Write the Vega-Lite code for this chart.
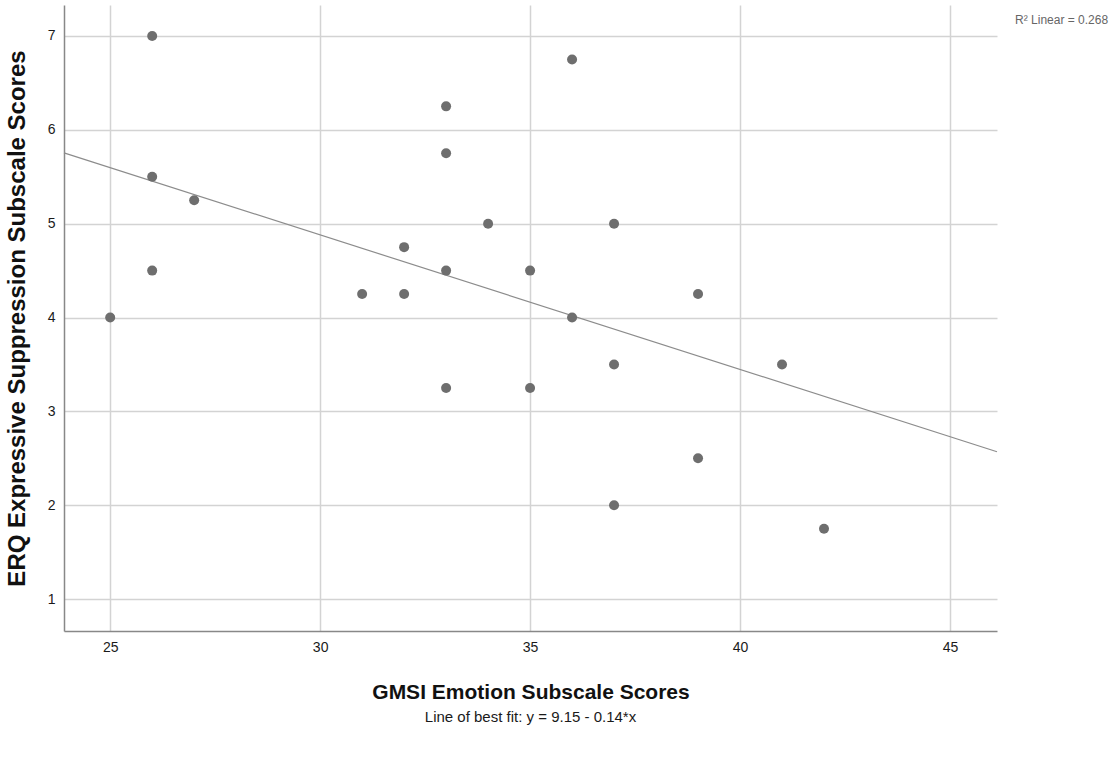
{
  "$schema": "https://vega.github.io/schema/vega-lite/v6.json",
  "width": 933,
  "height": 626,
  "autosize": {"type": "none"},
  "padding": {"left": 64, "top": 5, "right": 123, "bottom": 126},
  "background": "white",
  "title": {
    "text": "Line of best fit: y = 9.15 - 0.14*x",
    "orient": "bottom",
    "anchor": "middle",
    "font": "Liberation Sans",
    "fontSize": 15,
    "fontWeight": "normal",
    "color": "#1a1a1a",
    "offset": 8
  },
  "datasets": {
    "points": [
      {"gmsi": 26, "erq": 7},
      {"gmsi": 36, "erq": 6.75},
      {"gmsi": 33, "erq": 6.25},
      {"gmsi": 33, "erq": 5.75},
      {"gmsi": 26, "erq": 5.5},
      {"gmsi": 27, "erq": 5.25},
      {"gmsi": 34, "erq": 5},
      {"gmsi": 37, "erq": 5},
      {"gmsi": 32, "erq": 4.75},
      {"gmsi": 26, "erq": 4.5},
      {"gmsi": 33, "erq": 4.5},
      {"gmsi": 35, "erq": 4.5},
      {"gmsi": 31, "erq": 4.25},
      {"gmsi": 32, "erq": 4.25},
      {"gmsi": 39, "erq": 4.25},
      {"gmsi": 25, "erq": 4},
      {"gmsi": 36, "erq": 4},
      {"gmsi": 37, "erq": 3.5},
      {"gmsi": 41, "erq": 3.5},
      {"gmsi": 33, "erq": 3.25},
      {"gmsi": 35, "erq": 3.25},
      {"gmsi": 39, "erq": 2.5},
      {"gmsi": 37, "erq": 2},
      {"gmsi": 42, "erq": 1.75}
    ],
    "fit": [
      {"gmsi": 23.9, "erq": 5.755},
      {"gmsi": 46.12, "erq": 2.57}
    ],
    "label": [
      {"gmsi": 46.55, "erq": 7.17, "text": "R² Linear = 0.268"}
    ]
  },
  "encoding": {
    "x": {
      "field": "gmsi",
      "type": "quantitative",
      "scale": {"domain": [23.9, 46.12], "nice": false, "zero": false},
      "axis": {
        "title": "GMSI Emotion Subscale Scores",
        "values": [25, 30, 35, 40, 45],
        "grid": true,
        "gridColor": "#d3d3d3",
        "gridWidth": 1.5,
        "ticks": false,
        "domainColor": "#888888",
        "domainWidth": 1.5,
        "labelFont": "Liberation Sans",
        "labelFontSize": 14,
        "labelColor": "#1a1a1a",
        "labelPadding": 9,
        "titleFont": "Liberation Sans",
        "titleFontSize": 21,
        "titleFontWeight": "bold",
        "titleColor": "#111111",
        "titlePadding": 27
      }
    },
    "y": {
      "field": "erq",
      "type": "quantitative",
      "scale": {"domain": [0.66, 7.33], "nice": false, "zero": false},
      "axis": {
        "title": "ERQ Expressive Suppression Subscale Scores",
        "values": [1, 2, 3, 4, 5, 6, 7],
        "grid": true,
        "gridColor": "#d3d3d3",
        "gridWidth": 1.5,
        "ticks": false,
        "domainColor": "#888888",
        "domainWidth": 1.5,
        "labelFont": "Liberation Sans",
        "labelFontSize": 14,
        "labelColor": "#1a1a1a",
        "labelPadding": 9,
        "titleFont": "Liberation Sans",
        "titleFontSize": 24,
        "titleFontWeight": "bold",
        "titleColor": "#111111",
        "titlePadding": 18
      }
    }
  },
  "layer": [
    {
      "data": {"name": "fit"},
      "mark": {"type": "line", "color": "#8c8c8c", "strokeWidth": 1.2}
    },
    {
      "data": {"name": "points"},
      "mark": {"type": "circle", "size": 100, "color": "#6e6e6e", "opacity": 1}
    },
    {
      "data": {"name": "label"},
      "mark": {"type": "text", "align": "left", "baseline": "middle", "font": "Liberation Sans", "fontSize": 12, "color": "#666666"},
      "encoding": {"text": {"field": "text"}}
    }
  ],
  "config": {"view": {"stroke": null}}
}
